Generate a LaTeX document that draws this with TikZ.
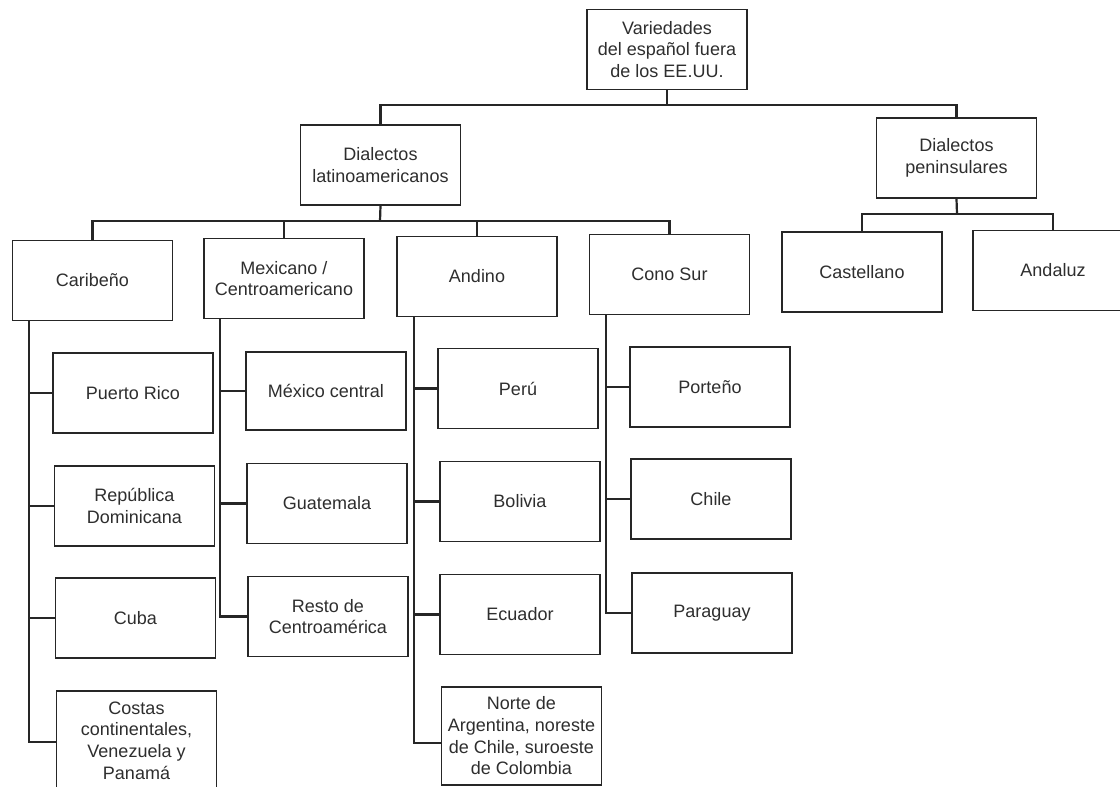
\documentclass[tikz,border=0pt]{standalone}
\usepackage{fontspec}
\setmainfont{Liberation Sans}
\begin{document}
\begin{tikzpicture}[x=1pt,y=-1pt,
  box/.style={draw=black!85, line width=1.5pt, minimum width=160pt, minimum height=80pt,
    align=center, inner sep=2pt, font=\fontsize{18}{21.7}\selectfont, text=black!82},
  conn/.style={draw=black!85, line width=2.2pt}]
\useasboundingbox (0,0) rectangle (1120,787);
\fill[white] (0,0) rectangle (1120,787);
% level 1
\node[box] (root) at (667,49.5) {Variedades\\del español fuera\\de los EE.UU.};
% level 2
\node[box] (lat) at (380.5,165) {Dialectos\\latinoamericanos};
\node[box] (pen) at (956.5,158) {Dialectos\\peninsulares};
% level 3
\node[box] (car) at (92.5,280.5) {Caribeño};
\node[box] (mex) at (284,278.5) {Mexicano /\\Centroamericano};
\node[box] (and) at (477,276.5) {Andino};
\node[box] (cono) at (669.5,274.5) {Cono Sur};
\node[box] (cast) at (862,272) {Castellano};
\node[box] (anda) at (1053,270.5) {Andaluz};
% level 4 - Caribeño
\node[box] (pr) at (133,393) {Puerto Rico};
\node[box] (rd) at (134.5,506) {República\\Dominicana};
\node[box] (cuba) at (135.5,618) {Cuba};
\node[box, minimum height=99pt] (costas) at (136.5,740.5) {Costas\\continentales,\\Venezuela y\\Panamá};
% Mexicano
\node[box, minimum height=78pt] (mexc) at (326,391) {México central};
\node[box] (guat) at (327,503.5) {Guatemala};
\node[box] (resto) at (328,616.5) {Resto de\\Centroamérica};
% Andino
\node[box] (peru) at (518,388.5) {Perú};
\node[box] (bol) at (520,501.5) {Bolivia};
\node[box] (ecu) at (520,614.5) {Ecuador};
\node[box, minimum height=98pt] (norte) at (521.5,736) {Norte de\\Argentina, noreste\\de Chile, suroeste\\de Colombia};
% Cono Sur
\node[box] (port) at (710,387) {Porteño};
\node[box] (chile) at (711,499) {Chile};
\node[box] (para) at (712,613) {Paraguay};

% connectors level 1
\coordinate (j1) at (667,105);
\draw[conn] (root.south) -- (j1);
\draw[conn] (lat.north) |- (j1) -| (pen.north);
% latinoamericanos
\coordinate (j2) at (380,221);
\draw[conn] (lat.south) -- (j2);
\draw[conn] (car.north) |- (j2) -| (cono.north);
\draw[conn] (mex.north) -- (mex.north |- j2);
\draw[conn] (and.north) -- (and.north |- j2);
% peninsulares
\coordinate (j3) at (957,214);
\draw[conn] (pen.south) -- (j3);
\draw[conn] (cast.north) |- (j3) -| (anda.north);
% trunks
\coordinate (tcar) at ([xshift=17pt]car.south west);
\coordinate (tmex) at ([xshift=17pt]mex.south west);
\coordinate (tand) at ([xshift=18pt]and.south west);
\coordinate (tcon) at ([xshift=17pt]cono.south west);
\draw[conn] (tcar) |- ([yshift=-1.5pt]costas.west);
\draw[conn] (pr.west) -- (pr.west -| tcar);
\draw[conn] (rd.west) -- (rd.west -| tcar);
\draw[conn] (cuba.west) -- (cuba.west -| tcar);
\draw[conn] (tmex) |- (resto.west);
\draw[conn] (mexc.west) -- (mexc.west -| tmex);
\draw[conn] (guat.west) -- (guat.west -| tmex);
\draw[conn] (tand) |- ([yshift=-7pt]norte.west);
\draw[conn] (peru.west) -- (peru.west -| tand);
\draw[conn] (bol.west) -- (bol.west -| tand);
\draw[conn] (ecu.west) -- (ecu.west -| tand);
\draw[conn] (tcon) |- (para.west);
\draw[conn] (port.west) -- (port.west -| tcon);
\draw[conn] (chile.west) -- (chile.west -| tcon);
\end{tikzpicture}
\end{document}
